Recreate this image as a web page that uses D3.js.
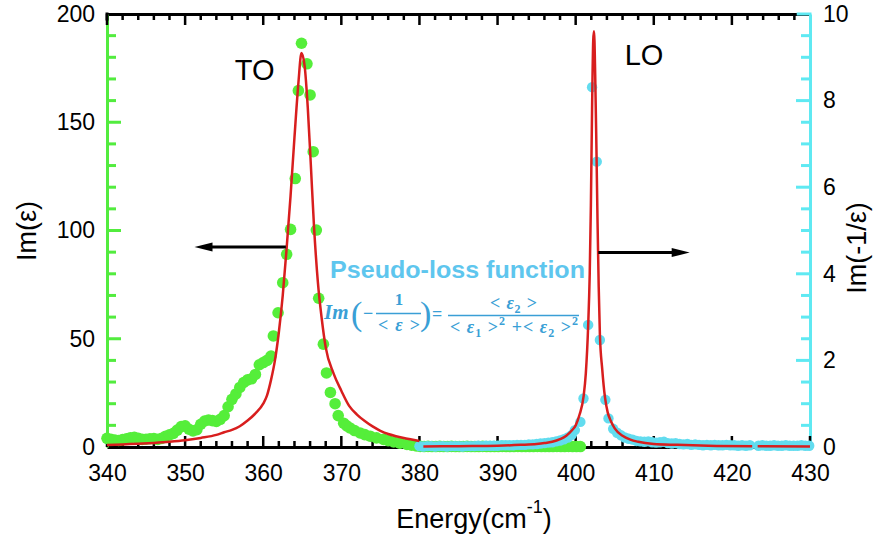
<!DOCTYPE html>
<html>
<head>
<meta charset="utf-8">
<script src="https://cdn.jsdelivr.net/npm/d3@7"></script>
<style>
  html, body { margin: 0; padding: 0; background: #fff; }
  svg { display: block; font-family: "Liberation Sans", Arial, sans-serif; }
</style>
</head>
<body>
<div id="chart"></div>
<script>
// ---- data ----
// tick labels
const energyTicks = [340, 350, 360, 370, 380, 390, 400, 410, 420, 430];
const imEpsTicks = [0, 50, 100, 150, 200];
const lossTicks = [0, 2, 4, 6, 8, 10];

// Im(eps) measured points (green, left axis)
const toDataE = [340.0,340.5,341.0,341.5,342.0,342.5,343.0,343.5,344.0,344.5,345.0,345.5,346.0,346.5,347.0,347.5,348.0,348.5,349.0,349.5,
  350.0,350.5,351.0,351.5,352.0,352.5,353.0,353.5,354.0,354.5,355.0,355.5,356.0,356.5,357.0,357.5,358.0,358.5,359.0,359.5,360.0,360.5,361.0,
  361.3,361.9,362.5,363.0,363.5,364.1,364.5,364.9,365.6,366.0,366.4,366.8,367.1,367.7,368.1,368.6,369.2,369.6,370.3,370.7,371.1,371.7,
  372.4,373.0,373.7,374.5,375.4,376.0,376.7,377.5,378.4,379.0,379.6,
  380.1,380.6,381.1,381.6,382.1,382.6,383.1,383.6,384.1,384.6,385.1,385.6,386.1,386.6,387.1,387.6,388.1,388.6,389.1,389.6,
  390.1,390.6,391.1,391.6,392.1,392.6,393.1,393.6,394.1,394.6,395.1,395.6,396.1,396.6,397.1,397.6,398.1,398.6,399.1,399.6,400.1,400.6];
const toDataV = [4.0,3.5,3.2,3.0,3.4,3.8,4.3,4.5,4.0,3.5,3.6,3.8,3.9,3.5,4.0,5.0,5.6,6.3,7.8,9.4,
  9.8,8.2,7.4,8.0,10.5,12.0,12.5,12.2,11.8,12.8,14.5,18.6,22.0,24.5,27.5,29.8,31.0,31.5,33.5,38.0,39.0,40.0,42.0,
  51.3,62.0,75.9,89.0,100.5,124.0,164.6,186.5,177.0,162.6,136.4,100.2,68.7,47.5,34.2,25.2,20.0,14.5,11.0,9.8,8.8,7.6,
  6.5,5.7,5.0,4.2,3.5,2.9,2.3,1.8,1.2,0.8,0.5,
  0.3,0.2,0.3,0.2,0.2,0.3,0.2,0.2,0.3,0.2,0.2,0.2,0.3,0.2,0.2,0.2,0.3,0.2,0.2,0.2,
  0.2,0.3,0.2,0.2,0.2,0.3,0.2,0.2,0.2,0.2,0.3,0.2,0.2,0.2,0.2,0.3,0.2,0.2,0.3,0.2,0.2,0.2];

// Im(-1/eps) measured points (cyan, right axis)
const loDataE = [380.0,380.5,381.0,381.5,382.0,382.5,383.0,383.5,384.0,384.5,385.0,385.5,386.0,386.5,387.0,387.5,388.0,388.5,389.0,389.5,
  390.0,390.5,391.0,391.5,392.0,392.5,393.0,393.5,394.0,394.5,395.0,395.5,396.0,396.5,397.0,397.5,398.0,398.5,399.0,
  399.5,399.9,400.6,401.0,401.6,402.1,402.7,403.1,403.8,404.2,
  404.8,405.3,405.8,406.3,406.8,407.3,407.8,408.3,408.8,409.3,
  409.8,410.3,410.8,411.3,411.8,412.3,412.8,413.3,413.8,414.3,
  414.8,415.3,415.8,416.3,416.8,417.3,417.8,418.3,418.8,419.3,
  419.8,420.3,420.8,421.3,421.8,422.3,
  423.4,423.9,424.4,424.9,425.4,425.9,426.4,426.9,427.4,427.9,428.4,428.9,429.4,429.9];
const loDataV = [0.02,0.01,0.02,0.02,0.01,0.02,0.02,0.01,0.02,0.02,0.02,0.01,0.02,0.02,0.02,0.03,0.02,0.03,0.03,0.03,
  0.03,0.04,0.04,0.04,0.04,0.05,0.05,0.05,0.06,0.06,0.07,0.08,0.09,0.10,0.11,0.13,0.15,0.18,0.22,
  0.28,0.39,0.58,1.12,2.82,8.31,6.59,2.47,1.09,0.66,
  0.42,0.33,0.27,0.22,0.19,0.17,0.14,0.13,0.12,0.13,
  0.11,0.10,0.11,0.12,0.09,0.08,0.09,0.07,0.06,0.07,
  0.05,0.06,0.05,0.04,0.05,0.04,0.05,0.04,0.04,0.05,
  0.04,0.04,0.03,0.04,0.03,0.04,
  0.03,0.04,0.03,0.03,0.04,0.03,0.03,0.04,0.03,0.03,0.03,0.04,0.03,0.03];

// fitted TO curve (red, left axis)
const toFitE = [340,342,344,346,348,350,352,354,355,356,357,358,359,360,360.5,361,361.5,362,362.5,363,363.5,364,364.5,364.9,
  365.3,365.7,366.1,366.5,367,367.5,368,369,370,371,372,373,374,375,376,377,378,379,380];
const toFitV = [0.9,1.2,1.5,1.9,2.4,3.1,4.2,5.6,6.8,7.9,9.6,12.2,15.5,20,24,31,40,53,70,92,116,143,168,182,
  176,157,130,102,76,59,46,34,26,19,15,12,9.5,7.5,6.0,5.0,4.2,3.5,2.8];

// fitted LO curve (red, right axis); null = gap in the data
const loFitE = [380.5,385,390,393,395,396,397,398,398.8,399.5,400,400.5,401,401.3,401.6,401.8,401.95,402.1,402.25,402.35,
  402.5,402.65,402.8,402.95,403.1,403.4,403.75,404.1,404.5,405,406,407,408,410,413,417,422.6,422.9,423.3,430];
const loFitV = [0.01,0.02,0.03,0.05,0.07,0.09,0.12,0.18,0.26,0.38,0.50,0.75,1.15,1.7,2.8,4.0,5.6,7.8,9.4,9.6,
  8.6,7.0,5.2,3.7,2.6,1.8,1.15,0.8,0.6,0.43,0.26,0.17,0.12,0.07,0.05,0.03,0.02,null,0.02,0.01];

// ---- chart ----
const W = 873, H = 542;
const green = "#52ec3e", cyan = "#5fe9f2", red = "#d81e1e";
const greenDot = "#55ee3a", cyanDot = "#62dcef";
const font = "'Liberation Sans', Arial, sans-serif";

const svg = d3.select("#chart").append("svg")
  .attr("width", W).attr("height", H);

const x = d3.scaleLinear().domain([340, 430]).range([107, 810]);
const yL = d3.scaleLinear().domain([0, 200]).range([447, 14]);
const yR = d3.scaleLinear().domain([0, 10]).range([447, 14]);

function styleAxis(g, color) {
  g.attr("font-family", font).attr("font-size", 23);
  g.select(".domain").attr("stroke", color).attr("stroke-width", 3);
  g.selectAll(".tick line").remove();
  g.selectAll(".tick text").attr("fill", "#000");
}

// axis lines and labels (tick marks are drawn further down)
svg.append("g").attr("transform", "translate(0,447)")
  .call(d3.axisBottom(x).tickValues(energyTicks).tickSize(0).tickPadding(18))
  .call(g => styleAxis(g, "#000"));
svg.append("g").attr("transform", "translate(0,14)")
  .call(d3.axisTop(x).tickValues(energyTicks).tickSize(0).tickFormat(""))
  .call(g => styleAxis(g, "#000"));
svg.append("g").attr("transform", "translate(107,0)")
  .call(d3.axisLeft(yL).tickValues(imEpsTicks).tickSize(0).tickPadding(12))
  .call(g => styleAxis(g, green));
svg.append("g").attr("transform", "translate(810,0)")
  .call(d3.axisRight(yR).tickValues(lossTicks).tickSize(0).tickPadding(13))
  .call(g => styleAxis(g, cyan));

// corner pieces
svg.append("line").attr("x1", 107).attr("x2", 107).attr("y1", yL(200) - 1.5).attr("y2", yL(197))
  .attr("stroke", "#000").attr("stroke-width", 3);
svg.append("line").attr("x1", x(428.3)).attr("x2", 811.5).attr("y1", 14).attr("y2", 14)
  .attr("stroke", cyan).attr("stroke-width", 3);

// axis titles
svg.append("text").attr("transform", "translate(27,231) rotate(-90)")
  .attr("text-anchor", "middle").attr("dominant-baseline", "central")
  .attr("font-family", font).attr("font-size", 27).text("Im(ε)");
svg.append("text").attr("transform", "translate(857,248) rotate(-90)")
  .attr("text-anchor", "middle").attr("dominant-baseline", "central")
  .attr("font-family", font).attr("font-size", 27).text("Im(-1/ε)");
const xt = svg.append("text").attr("x", 474).attr("y", 528).attr("text-anchor", "middle")
  .attr("font-family", font).attr("font-size", 27);
xt.append("tspan").text("Energy(cm");
xt.append("tspan").attr("font-size", 18).attr("dy", -15).text("-1");
xt.append("tspan").attr("dy", 15).text(")");

// tick marks as small rects, all pointing into the plot
function hTicks(values, y0, len, color, w) {
  svg.append("g").selectAll("rect").data(values).join("rect")
    .attr("x", d => x(d) - w / 2).attr("width", w)
    .attr("y", Math.min(y0, y0 + len)).attr("height", Math.abs(len))
    .attr("fill", color);
}
function vTicks(values, scale, x0, len, color, w) {
  svg.append("g").selectAll("rect").data(values).join("rect")
    .attr("x", Math.min(x0, x0 + len)).attr("width", Math.abs(len))
    .attr("y", d => scale(d) - w / 2).attr("height", w)
    .attr("fill", color);
}
const xMinor = d3.range(342, 430, 2).filter(v => v % 10);
hTicks(energyTicks, 447, -11, "#000", 2.5);
hTicks(xMinor, 447, -6, "#000", 2.5);
hTicks(energyTicks.slice(0, -1), 14, 11, "#000", 2.5);
hTicks(xMinor, 14, 6, "#000", 2.5);
vTicks(imEpsTicks.slice(1, -1), yL, 107, 14, green, 3);
vTicks(d3.range(10, 200, 10).filter(v => v % 50), yL, 107, 9, green, 3);
vTicks(lossTicks.slice(1, -1), yR, 810, -14, cyan, 3);
vTicks(d3.range(0.5, 10, 0.5).filter(v => v % 2), yR, 810, -9, cyan, 3);

// measured points
svg.append("g").selectAll("circle")
  .data(d3.zip(toDataE, toDataV)).join("circle")
  .attr("cx", d => x(d[0])).attr("cy", d => yL(d[1])).attr("r", 5.8)
  .attr("fill", greenDot);
svg.append("g").selectAll("circle")
  .data(d3.zip(loDataE, loDataV)).join("circle")
  .attr("cx", d => x(d[0])).attr("cy", d => yR(d[1])).attr("r", 5.2)
  .attr("fill", cyanDot);

// fits
svg.append("path").datum(d3.zip(toFitE, toFitV))
  .attr("fill", "none").attr("stroke", red).attr("stroke-width", 2.5)
  .attr("d", d3.line().x(d => x(d[0])).y(d => yL(d[1])).curve(d3.curveMonotoneX));
svg.append("path").datum(d3.zip(loFitE, loFitV))
  .attr("fill", "none").attr("stroke", red).attr("stroke-width", 2.5)
  .attr("d", d3.line().defined(d => d[1] != null).x(d => x(d[0])).y(d => yR(d[1])).curve(d3.curveMonotoneX));

// arrows
function arrow(x1, x2, y) {
  const dir = Math.sign(x2 - x1);
  svg.append("line").attr("x1", x1).attr("x2", x2 - dir * 14).attr("y1", y).attr("y2", y)
    .attr("stroke", "#000").attr("stroke-width", 3);
  svg.append("path")
    .attr("d", `M${x2},${y}L${x2 - dir * 18},${y - 4.5}L${x2 - dir * 18},${y + 4.5}Z`)
    .attr("fill", "#000");
}
arrow(x(362.9), x(351.2), yL(92.4));
arrow(x(402.9), x(414.6), yR(4.49));

// peak labels
svg.append("text").attr("x", x(358.9)).attr("y", 80).attr("text-anchor", "middle")
  .attr("font-family", font).attr("font-size", 29).text("TO");
svg.append("text").attr("x", x(408.75)).attr("y", 65).attr("text-anchor", "middle")
  .attr("font-family", font).attr("font-size", 29).text("LO");

// pseudo-loss annotation
svg.append("text").attr("x", 330).attr("y", 278)
  .attr("font-family", font).attr("font-size", 24).attr("font-weight", "bold")
  .attr("fill", "#5ec6ee").attr("textLength", 255).attr("lengthAdjust", "spacingAndGlyphs")
  .text("Pseudo-loss function");

const fc = "#3a9fd6";
const serif = "'Liberation Serif', 'DejaVu Serif', serif";
const fm = svg.append("g").attr("fill", fc).attr("font-family", serif).attr("font-weight", "bold");
fm.append("text").attr("x", 324).attr("y", 319).attr("font-size", 21).attr("font-style", "italic").text("Im");
fm.append("text").attr("x", 351).attr("y", 325).attr("font-size", 34).attr("font-weight", "normal").text("(");
fm.append("text").attr("x", 363).attr("y", 319).attr("font-size", 18).text("−");
fm.append("line").attr("x1", 376).attr("x2", 421).attr("y1", 313.5).attr("y2", 313.5).attr("stroke", fc).attr("stroke-width", 1.3);
fm.append("text").attr("x", 399).attr("y", 305).attr("font-size", 17).attr("text-anchor", "middle").text("1");
const d1 = fm.append("text").attr("x", 378).attr("y", 331).attr("font-size", 18).attr("textLength", 42);
d1.append("tspan").text("< ");
d1.append("tspan").attr("font-style", "italic").text("ε");
d1.append("tspan").text(" >");
fm.append("text").attr("x", 420).attr("y", 325).attr("font-size", 34).attr("font-weight", "normal").text(")");
fm.append("text").attr("x", 432).attr("y", 320).attr("font-size", 18).text("=");
fm.append("line").attr("x1", 448).attr("x2", 579).attr("y1", 315.5).attr("y2", 315.5).attr("stroke", fc).attr("stroke-width", 1.3);
const n2 = fm.append("text").attr("x", 490).attr("y", 309).attr("font-size", 18).attr("textLength", 47);
n2.append("tspan").text("< ");
n2.append("tspan").attr("font-style", "italic").text("ε");
n2.append("tspan").attr("font-size", 12).attr("dy", 4).text("2");
n2.append("tspan").attr("dy", -4).text(" >");
const d2 = fm.append("text").attr("x", 450).attr("y", 333).attr("font-size", 18).attr("textLength", 128);
d2.append("tspan").text("< ");
d2.append("tspan").attr("font-style", "italic").text("ε");
d2.append("tspan").attr("font-size", 12).attr("dy", 4).text("1");
d2.append("tspan").attr("dy", -4).text(" >");
d2.append("tspan").attr("font-size", 12).attr("dy", -8).text("2");
d2.append("tspan").attr("dy", 8).text(" +< ");
d2.append("tspan").attr("font-style", "italic").text("ε");
d2.append("tspan").attr("font-size", 12).attr("dy", 4).text("2");
d2.append("tspan").attr("dy", -4).text(" >");
d2.append("tspan").attr("font-size", 12).attr("dy", -8).text("2");
</script>
</body>
</html>
